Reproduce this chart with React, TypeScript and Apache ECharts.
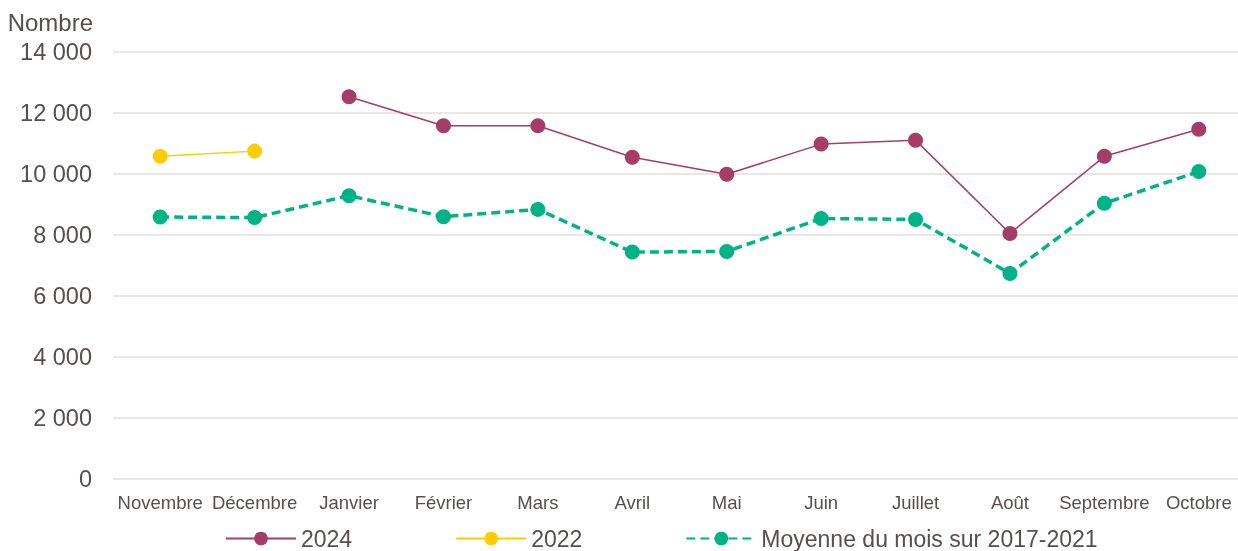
import React, { useEffect, useRef } from "react";
import * as echarts from "echarts";

const categories = ["Novembre", "Décembre", "Janvier", "Février", "Mars", "Avril", "Mai", "Juin", "Juillet", "Août", "Septembre", "Octobre"];
const series2024 = [null, null, 12530, 11580, 11580, 10550, 9990, 10980, 11110, 8050, 10580, 11470];
const series2022 = [10580, 10750, null, null, null, null, null, null, null, null, null, null];
const seriesMoyenne = [8590, 8570, 9290, 8600, 8840, 7440, 7460, 8540, 8510, 6740, 9040, 10080];
const yTicks = [0, 2000, 4000, 6000, 8000, 10000, 12000, 14000];

const TEXT = "#584E4E";
const FONT = "'Liberation Sans', Arial, sans-serif";

function fmt(v: number): string {
  return String(v).replace(/\B(?=(\d{3})+(?!\d))/g, " ");
}

export default function App() {
  const ref = useRef<HTMLDivElement>(null);
  useEffect(() => {
    if (!ref.current) return;
    const chart = echarts.init(ref.current, null, { renderer: "svg" });
    chart.setOption({
      animation: false,
      textStyle: { fontFamily: FONT, color: TEXT },
      grid: { left: 113, top: 52, right: 4, bottom: 72, containLabel: false },
      graphic: [
        {
          type: "text",
          x: 93,
          y: 22,
          style: { text: "Nombre", align: "right", verticalAlign: "middle", fontSize: 24, fill: TEXT, fontFamily: FONT },
        },
      ],
      legend: {
        left: 220,
        top: 522,
        itemWidth: 70,
        itemHeight: 17,
        itemGap: 103,
        textStyle: { fontSize: 23, color: TEXT, fontFamily: FONT },
        data: ["2024", "2022", "Moyenne du mois sur 2017-2021"],
      },
      xAxis: {
        type: "category",
        data: categories,
        boundaryGap: true,
        axisLine: { show: false },
        axisTick: { show: false },
        axisLabel: { fontSize: 18.5, color: TEXT, margin: 14, interval: 0, fontFamily: FONT },
      },
      yAxis: {
        type: "value",
        min: yTicks[0],
        max: yTicks[yTicks.length - 1],
        interval: 2000,
        axisLine: { show: false },
        axisTick: { show: false },
        axisLabel: { fontSize: 23.5, color: TEXT, margin: 21, fontFamily: FONT, formatter: (v: number) => fmt(v) },
        splitLine: { show: true, lineStyle: { color: "#E4DEDE", width: 1.5 } },
      },
      series: [
        {
          name: "2024",
          type: "line",
          data: series2024,
          symbol: "circle",
          symbolSize: 15,
          color: "#A63C68",
          lineStyle: { width: 1.5, color: "#A63C68" },
          itemStyle: { color: "#A63C68" },
          connectNulls: false,
        },
        {
          name: "2022",
          type: "line",
          data: series2022,
          symbol: "circle",
          symbolSize: 15,
          color: "#FFCC00",
          lineStyle: { width: 1.5, color: "#FFCC00" },
          itemStyle: { color: "#FFCC00" },
        },
        {
          name: "Moyenne du mois sur 2017-2021",
          type: "line",
          data: seriesMoyenne,
          symbol: "circle",
          symbolSize: 15,
          color: "#00B386",
          lineStyle: { width: 3.5, color: "#00B386", type: [9, 5] },
          itemStyle: { color: "#00B386" },
        },
      ],
    });
    return () => chart.dispose();
  }, []);
  return (
    <div style={{ position: "fixed", left: 0, top: 0, width: 1238, height: 551, overflow: "hidden" }}>
      <div ref={ref} style={{ width: 1250, height: 551 }} />
    </div>
  );
}
